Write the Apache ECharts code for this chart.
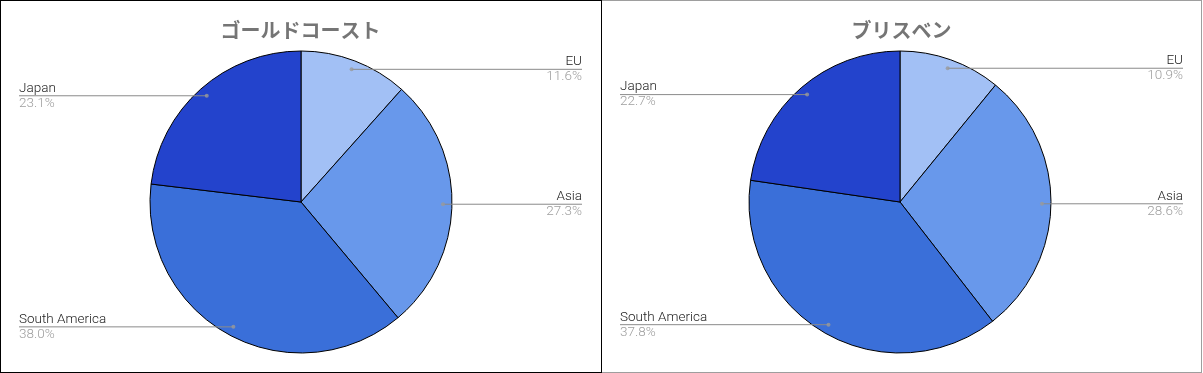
<!DOCTYPE html>
<html><head><meta charset="utf-8">
<script src="https://cdn.jsdelivr.net/npm/echarts@6/dist/echarts.min.js"></script>
<style>
html,body{margin:0;padding:0;background:#fff;width:1203px;height:373px;overflow:hidden;}
.chart{position:absolute;top:0;height:373px;}
.frame{position:absolute;top:0;box-sizing:border-box;pointer-events:none;}
</style></head><body>
<div id="c1" class="chart" style="left:0;width:601px"></div>
<div id="c2" class="chart" style="left:601px;width:601px"></div>
<div class="frame" style="left:601px;width:601px;height:373px;border:1px solid #9e9e9e;border-left:none"></div>
<div class="frame" style="left:0;width:602px;height:373px;border:1px solid #000"></div>
<script>
const categories = ['EU', 'Asia', 'South America', 'Japan'];
const goldCoastValues = [11.6, 27.3, 38.0, 23.1];
const brisbaneValues = [10.9, 28.6, 37.8, 22.7];
const titles = ['ゴールドコースト', 'ブリスベン'];
const colors = ['#a2c0f5', '#6898eb', '#3a6fd9', '#2343cc'];

function makeOption(title, values, cx, width) {
  const cy = 202, R = 151, Rdot = 142, edge = 19;
  const total = values.reduce((a, b) => a + b, 0);
  let acc = 0;
  const mids = values.map(v => { const m = (acc + v / 2) / total * 100; acc += v; return m; });
  const data = categories.map((c, i) => ({ name: c, value: values[i], itemStyle: { color: colors[i] } }));
  return {
    animation: false,
    title: {
      text: title, left: 'center', top: 15,
      textStyle: { fontSize: 20, fontWeight: 'bold', color: '#757575', fontFamily: 'Noto Sans CJK JP' }
    },
    polar: { center: [cx, cy], radius: Rdot },
    angleAxis: { type: 'value', min: 0, max: 100, startAngle: 90, clockwise: true, show: false },
    radiusAxis: { type: 'value', min: 0, max: 1, show: false },
    series: [
      {
        type: 'pie', radius: R, center: [cx, cy], startAngle: 90, clockwise: true,
        label: { show: false }, labelLine: { show: false }, silent: true,
        itemStyle: { borderColor: '#000', borderWidth: 1 },
        data: data
      },
      {
        type: 'pie', radius: Rdot, center: [cx, cy], startAngle: 90, clockwise: true,
        silent: true, avoidLabelOverlap: false, z: 3,
        itemStyle: { color: 'transparent', borderWidth: 0 },
        label: {
          show: true, position: 'outside',
          formatter: p => '{n|' + p.name + '}\n{v|' + p.value.toFixed(1) + '%}',
          rich: {
            n: { fontSize: 13.5, color: '#222', lineHeight: 15, fontFamily: 'Roboto', fontWeight: 300 },
            v: { fontSize: 13.5, color: '#9e9e9e', lineHeight: 15, fontFamily: 'Roboto', fontWeight: 300 }
          }
        },
        labelLine: { show: true, length: 0, length2: 20, smooth: false, lineStyle: { color: '#8a8a8a', width: 1 } },
        labelLayout: function (p) {
          const s = p.labelLinePoints[0];
          const right = s[0] > cx;
          const ex = right ? width - edge : edge;
          return {
            x: ex, y: s[1], align: right ? 'right' : 'left', verticalAlign: 'middle',
            labelLinePoints: [[s[0], s[1]], [s[0], s[1]], [ex, s[1]]]
          };
        },
        data: categories.map((c, i) => ({ name: c, value: values[i] }))
      },
      {
        type: 'scatter', coordinateSystem: 'polar', symbolSize: 4, z: 4, silent: true,
        itemStyle: { color: '#9a9a9a' },
        data: mids.map(m => [1, m])
      }
    ]
  };
}

const c1 = echarts.init(document.getElementById('c1'), null, { renderer: 'canvas' });
c1.setOption(makeOption(titles[0], goldCoastValues, 301, 601));
const c2 = echarts.init(document.getElementById('c2'), null, { renderer: 'canvas' });
c2.setOption(makeOption(titles[1], brisbaneValues, 299, 601));
</script>
</body></html>
